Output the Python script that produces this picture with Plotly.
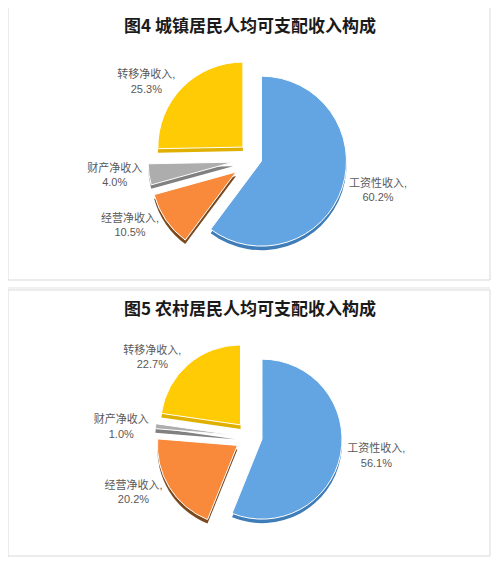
import plotly.graph_objects as go

# 收入构成类别（按顺时针顺序，从12点钟方向开始）
categories = ["工资性收入", "经营净收入", "财产净收入", "转移净收入"]
# 图中标签文字（财产净收入后无逗号）
label_names = ["工资性收入,", "经营净收入,", "财产净收入", "转移净收入,"]

urban_share = [60.2, 10.5, 4.0, 25.3]   # 图4 城镇
rural_share = [56.1, 20.2, 1.0, 22.7]   # 图5 农村

urban_title = "图4 城镇居民人均可支配收入构成"
rural_title = "图5 农村居民人均可支配收入构成"

face_colors = ["#62A5E2", "#F98A3C", "#ADADAD", "#FFCB05"]
side_colors = ["#3F7DB8", "#7A4A1E", "#808080", "#E0B000"]

# 浏览器 body 默认有 8px 外边距，坐标按页面像素换算
OFF = 8
W, H = 492, 556
TITLE_FONT = "Noto Sans CJK SC, sans-serif"
LABEL_FONT = "Liberation Sans, Noto Sans CJK SC, sans-serif"


def px_x(v):
    return (v - OFF) / W


def px_y(v):
    return 1 - (v - OFF) / H


def pie_pair(values, cx, cy, r, pulls):
    """返回阴影饼图+正面饼图，模拟原图的立体效果"""
    half = r * (1 + max(pulls))
    dom_x = [px_x(cx - half), px_x(cx + half)]
    dom_y = [px_y(cy + half), px_y(cy - half)]
    shift = 4 / H
    shadow = go.Pie(
        labels=categories, values=values, sort=False, direction="clockwise",
        rotation=0, pull=pulls, textinfo="none", textposition="none",
        hoverinfo="skip",
        marker=dict(colors=side_colors, line=dict(width=0)),
        domain=dict(x=dom_x, y=[dom_y[0] - shift, dom_y[1] - shift]),
        showlegend=False,
    )
    texts = [f"{n}<br>{v:.1f}%" for n, v in zip(label_names, values)]
    face = go.Pie(
        labels=categories, values=values, sort=False, direction="clockwise",
        rotation=0, pull=pulls, text=texts, textinfo="text",
        textposition="outside",
        textfont=dict(family=LABEL_FONT, size=11, color="#595959"),
        marker=dict(colors=face_colors, line=dict(color="white", width=1)),
        domain=dict(x=dom_x, y=dom_y),
        showlegend=False,
    )
    return [shadow, face]


fig = go.Figure()
for tr in pie_pair(urban_share, 255, 159, 85, [0.08, 0.27, 0.26, 0.2]):
    fig.add_trace(tr)
for tr in pie_pair(rural_share, 251, 437, 80, [0.14, 0.2, 0.2, 0.2]):
    fig.add_trace(tr)

# 外框
border = dict(type="rect", xref="paper", yref="paper",
              line=dict(color="#D9D9D9", width=1), fillcolor="rgba(0,0,0,0)")
fig.add_shape(**border, x0=px_x(8), x1=px_x(490), y0=px_y(280), y1=px_y(6))
fig.add_shape(**border, x0=px_x(8), x1=px_x(490), y0=px_y(556), y1=px_y(290))
fig.add_shape(type="line", xref="paper", yref="paper",
              x0=px_x(8), x1=px_x(490), y0=px_y(288), y1=px_y(288),
              line=dict(color="#E3E3E3", width=1))

for text, y in [(urban_title, 24), (rural_title, 307)]:
    fig.add_annotation(
        text=f"<b>{text}</b>", xref="paper", yref="paper",
        x=px_x(250), y=px_y(y), xanchor="center", yanchor="middle",
        showarrow=False,
        font=dict(family=TITLE_FONT, size=17, color="#1a1a1a"),
    )

fig.update_layout(
    width=W, height=H, margin=dict(l=0, r=0, t=0, b=0),
    paper_bgcolor="white", plot_bgcolor="white",
)

fig.write_html("out.html")
